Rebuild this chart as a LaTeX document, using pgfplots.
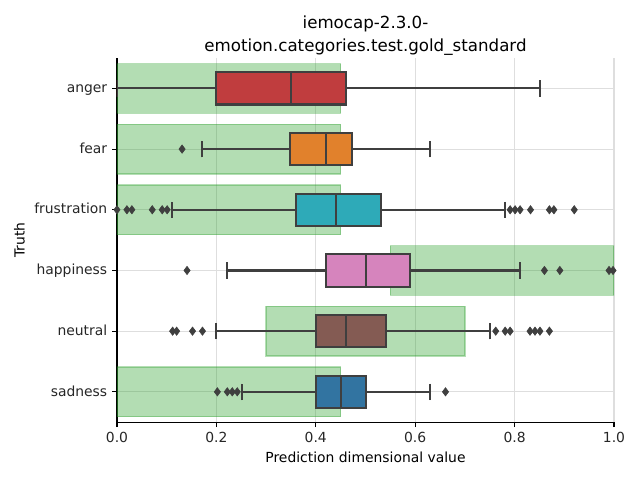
\documentclass[border=0pt]{standalone}
\usepackage{fontspec}
\setmainfont{DejaVu Sans}
\usepackage{pgfplots}
\pgfplotsset{compat=1.18}
\usepgfplotslibrary{statistics}

\definecolor{boxline}{RGB}{63,63,63}
\definecolor{gridgray}{RGB}{222,222,222}
\definecolor{truthgreen}{RGB}{44,160,44}
\definecolor{cAnger}{RGB}{192,61,62}
\definecolor{cFear}{RGB}{225,129,44}
\definecolor{cFrus}{RGB}{46,170,184}
\definecolor{cHapp}{RGB}{214,132,189}
\definecolor{cNeut}{RGB}{132,91,83}
\definecolor{cSad}{RGB}{50,116,161}

\begin{document}
\begin{tikzpicture}
\begin{axis}[
    scale only axis,
    width=357.8pt, height=262.1pt,
    xmin=0, xmax=1, ymin=-0.5, ymax=5.5,
    axis x line*=bottom, axis y line*=left,
    axis line style={black, line width=0.8pt, -},
    tick align=outside, major tick length=3.5pt,
    tick style={black, line width=0.8pt},
    xtick={0,0.2,0.4,0.6,0.8,1.0},
    ytick={0,1,2,3,4,5},
    yticklabels={sadness,neutral,happiness,frustration,fear,anger},
    xticklabel style={/pgf/number format/.cd, fixed, fixed zerofill, precision=1, assume math mode=true},
    yticklabel style={text height=1.45ex, text depth=0.35ex},
    /pgf/number format/assume math mode=true,
    ticklabel style={font=\fontsize{10}{12}\selectfont, text=black!85},
    xmajorgrids, ymajorgrids,
    grid style={gridgray, line width=0.8pt},
    xlabel={Prediction dimensional value},
    ylabel={Truth},
    label style={font=\fontsize{10}{12}\selectfont},
    title={iemocap-2.3.0-\\[2pt]emotion.categories.test.gold\_standard},
    title style={align=center, font=\fontsize{12}{15}\selectfont, yshift=-7.9pt},
    boxplot/draw direction=x,
    boxplot/box extend=0.53,
    boxplot/whisker extend=0.27,
    truth/.style={draw=truthgreen, draw opacity=0.35, fill=truthgreen, fill opacity=0.36, line width=1pt},
    bx/.style={draw=boxline, line width=1.5pt, solid},
    outl/.style={only marks, mark=diamond*, mark size=3pt, draw=boxline, fill=boxline},
]
% truth ranges
\addplot[truth] coordinates {(0,4.59) (0.45,4.59) (0.45,5.41) (0,5.41)} -- cycle;
\addplot[truth] coordinates {(0,3.59) (0.45,3.59) (0.45,4.41) (0,4.41)} -- cycle;
\addplot[truth] coordinates {(0,2.59) (0.45,2.59) (0.45,3.41) (0,3.41)} -- cycle;
\addplot[truth] coordinates {(0.55,1.59) (1.0,1.59) (1.0,2.41) (0.55,2.41)} -- cycle;
\addplot[truth] coordinates {(0.3,0.59) (0.7,0.59) (0.7,1.41) (0.3,1.41)} -- cycle;
\addplot[truth] coordinates {(0,-0.41) (0.45,-0.41) (0.45,0.41) (0,0.41)} -- cycle;

% boxes
\addplot[bx, fill=cAnger, boxplot prepared={draw position=5, lower whisker=0.0, lower quartile=0.200, median=0.350, upper quartile=0.461, upper whisker=0.851}] coordinates {};
\addplot[bx, fill=cFear, boxplot prepared={draw position=4, lower whisker=0.171, lower quartile=0.349, median=0.421, upper quartile=0.472, upper whisker=0.630}] coordinates {};
\addplot[bx, fill=cFrus, boxplot prepared={draw position=3, lower whisker=0.110, lower quartile=0.360, median=0.441, upper quartile=0.532, upper whisker=0.781}] coordinates {};
\addplot[bx, fill=cHapp, boxplot prepared={draw position=2, lower whisker=0.221, lower quartile=0.420, median=0.501, upper quartile=0.590, upper whisker=0.811}] coordinates {};
\addplot[bx, fill=cNeut, boxplot prepared={draw position=1, lower whisker=0.200, lower quartile=0.400, median=0.461, upper quartile=0.542, upper whisker=0.750}] coordinates {};
\addplot[bx, fill=cSad, boxplot prepared={draw position=0, lower whisker=0.251, lower quartile=0.401, median=0.451, upper quartile=0.501, upper whisker=0.630}] coordinates {};

% outliers
\addplot[outl] coordinates {(0.131,4)};
\addplot[outl] coordinates {(0.0,3) (0.020,3) (0.030,3) (0.071,3) (0.091,3) (0.101,3)
  (0.791,3) (0.801,3) (0.811,3) (0.832,3) (0.870,3) (0.879,3) (0.920,3)};
\addplot[outl] coordinates {(0.141,2) (0.860,2) (0.891,2) (0.990,2) (0.998,2)};
\addplot[outl] coordinates {(0.112,1) (0.120,1) (0.152,1) (0.172,1)
  (0.762,1) (0.781,1) (0.791,1) (0.831,1) (0.841,1) (0.851,1) (0.870,1)};
\addplot[outl] coordinates {(0.202,0) (0.222,0) (0.232,0) (0.242,0) (0.661,0)};
\end{axis}
\pgfresetboundingbox
\path ([shift={(-84.2pt,-41.8pt)}]current axis.south west) rectangle ([shift={(18.7pt,41.8pt)}]current axis.north east);
\end{tikzpicture}
\end{document}
